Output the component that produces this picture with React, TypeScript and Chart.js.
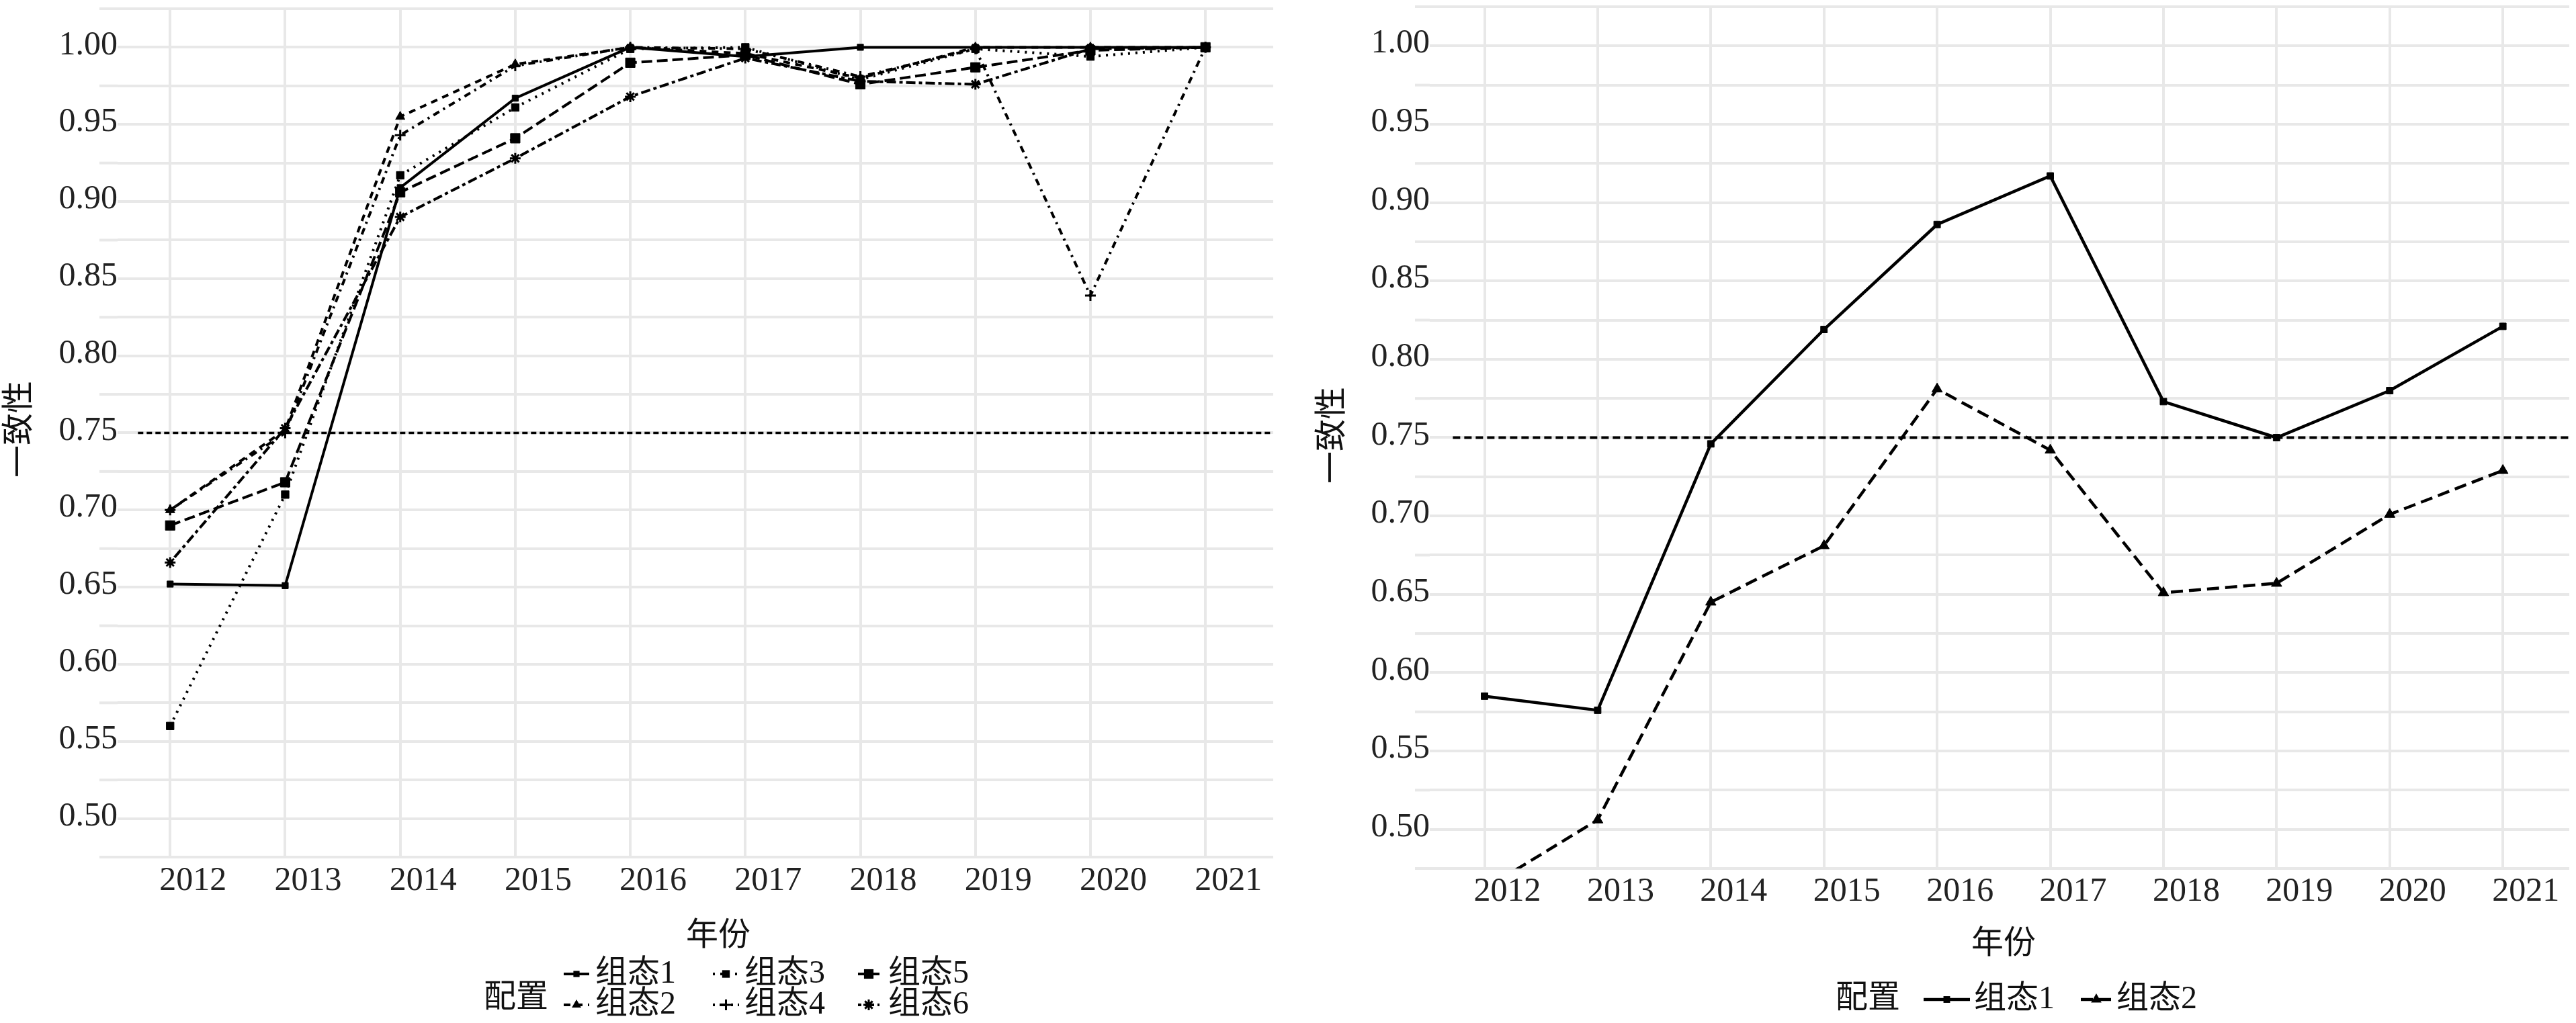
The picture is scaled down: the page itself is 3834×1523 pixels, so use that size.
import React, { useEffect, useRef } from 'react';
import { Chart, registerables } from 'chart.js';

Chart.register(...registerables);

// ---------- data ----------
const years = [2012, 2013, 2014, 2015, 2016, 2017, 2018, 2019, 2020, 2021];

const leftNames = ['组态1', '组态2', '组态3', '组态4', '组态5', '组态6'];
const left1 = [0.652, 0.651, 0.909, 0.967, 1.0, 0.994, 1.0, 1.0, 1.0, 1.0];
const left2 = [0.7, 0.752, 0.955, 0.989, 1.0, 0.996, 0.98, 1.0, 1.0, 1.0];
const left3 = [0.56, 0.71, 0.917, 0.961, 0.999, 1.0, 0.979, 0.999, 0.994, 1.0];
const left4 = [0.7, 0.75, 0.943, 0.988, 1.0, 0.999, 0.981, 0.999, 0.839, 1.0];
const left5 = [0.69, 0.718, 0.906, 0.941, 0.99, 0.995, 0.976, 0.987, 0.998, 1.0];
const left6 = [0.666, 0.753, 0.89, 0.928, 0.968, 0.993, 0.978, 0.976, 0.999, 1.0];

const rightNames = ['组态1', '组态2'];
const right1 = [0.585, 0.576, 0.746, 0.819, 0.886, 0.917, 0.773, 0.75, 0.78, 0.821];
const right2 = [0.462, 0.506, 0.645, 0.681, 0.781, 0.742, 0.651, 0.657, 0.701, 0.729];

const threshold = 0.75;
const yMin = 0.475;
const yMax = 1.025;
const yStep = 0.025;
const leftXRange = [2011.543, 2021.589];
const rightXRange = [2011.516, 2021.587];
const hlineStart = 2011.72;

const xTitle = '年份';
const yTitle = '一致性';
const legendTitle = '配置';

// ---------- styles ----------
const FONT = "'Liberation Serif', 'Times New Roman', 'Noto Sans CJK SC', serif";
const GRID = '#e8e8e8';

const leftStyles = [
  { dash: [], point: 'rect', r: 6.5, bw: 1 },
  { dash: [10, 8], point: 'triangle', r: 8, bw: 1 },
  { dash: [3, 8], point: 'rect', r: 8, bw: 1 },
  { dash: [3, 7, 10, 7], point: 'cross', r: 8, bw: 3 },
  { dash: [16, 7], point: 'rect', r: 10, bw: 1 },
  { dash: [5, 5, 14, 5], point: 'star', r: 8, bw: 3 },
];
const rightStyles = [
  { dash: [], point: 'rect', r: 7, bw: 1 },
  { dash: [18, 9], point: 'triangle', r: 9, bw: 1 },
];

const yTicks = Array.from({ length: Math.round((yMax - yMin) / yStep) + 1 }, (_, i) =>
  +(yMin + i * yStep).toFixed(3)
);
const isMajor = (v: number) => Math.abs(v * 20 - Math.round(v * 20)) < 1e-6;

function drawMarker(ctx: CanvasRenderingContext2D, style: string, x: number, y: number, r: number, bw: number) {
  ctx.beginPath();
  if (style === 'rect') {
    const s = r * Math.SQRT1_2;
    ctx.rect(x - s, y - s, 2 * s, 2 * s);
    ctx.fill();
  } else if (style === 'triangle') {
    let rad = 0;
    ctx.moveTo(x + Math.sin(rad) * r, y - Math.cos(rad) * r);
    rad += (2 * Math.PI) / 3;
    ctx.lineTo(x + Math.sin(rad) * r, y - Math.cos(rad) * r);
    rad += (2 * Math.PI) / 3;
    ctx.lineTo(x + Math.sin(rad) * r, y - Math.cos(rad) * r);
    ctx.closePath();
    ctx.fill();
  } else if (style === 'cross' || style === 'star') {
    ctx.lineWidth = bw;
    ctx.moveTo(x - r, y);
    ctx.lineTo(x + r, y);
    ctx.moveTo(x, y - r);
    ctx.lineTo(x, y + r);
    if (style === 'star') {
      const d = r * Math.SQRT1_2;
      ctx.moveTo(x - d, y - d);
      ctx.lineTo(x + d, y + d);
      ctx.moveTo(x - d, y + d);
      ctx.lineTo(x + d, y - d);
    }
    ctx.stroke();
  }
}

type Layout = {
  canvasW: number;
  canvasH: number;
  padTop: number;
  yAxisW: number;
  gridStartX: number;
  xAxisH: number;
  yLabelPad: number;
  xLabelPad: number;
  xLabelShift: number;
  xRange: number[];
  lineWidth: number;
  hlineWidth: number;
  hlineDash: number[];
  xTitlePos: [number, number];
  yTitlePos: [number, number];
  legendTitlePos: [number, number];
  legendItems: { x0: number; x1: number; y: number; tx: number }[];
};

function buildConfig(names: string[], series: number[][], styles: any[], L: Layout): any {
  const xMin = L.xRange[0];
  const xMax = L.xRange[1];
  const datasets: any[] = series.map((vals, i) => ({
    label: names[i],
    data: years.map((yr, j) => ({ x: yr, y: vals[j] })),
    borderColor: '#000',
    backgroundColor: '#000',
    borderWidth: L.lineWidth,
    borderDash: styles[i].dash,
    pointStyle: styles[i].point,
    pointRadius: styles[i].r,
    pointBackgroundColor: '#000',
    pointBorderColor: '#000',
    pointBorderWidth: styles[i].bw,
    tension: 0,
    fill: false,
  }));
  datasets.push({
    label: 'threshold',
    data: [
      { x: hlineStart, y: threshold },
      { x: xMax, y: threshold },
    ],
    borderColor: '#000',
    borderWidth: L.hlineWidth,
    borderDash: L.hlineDash,
    pointRadius: 0,
    fill: false,
  });

  const decor = {
    id: 'decor',
    beforeDatasetsDraw(chart: any) {
      // short extensions of the minor grid lines under the tick labels
      const ctx: CanvasRenderingContext2D = chart.ctx;
      const ys = chart.scales.y;
      ctx.save();
      ctx.strokeStyle = GRID;
      ctx.lineWidth = 4;
      yTicks.forEach((v) => {
        if (isMajor(v)) return;
        const py = ys.getPixelForValue(v);
        ctx.beginPath();
        ctx.moveTo(L.gridStartX, py);
        ctx.lineTo(chart.chartArea.left, py);
        ctx.stroke();
      });
      ctx.restore();
    },
    afterDraw(chart: any) {
      const ctx: CanvasRenderingContext2D = chart.ctx;
      ctx.save();
      ctx.fillStyle = '#111';
      ctx.strokeStyle = '#000';
      ctx.font = `48px ${FONT}`;
      ctx.textAlign = 'center';
      ctx.textBaseline = 'middle';
      ctx.fillText(xTitle, L.xTitlePos[0], L.xTitlePos[1]);
      ctx.save();
      ctx.translate(L.yTitlePos[0], L.yTitlePos[1]);
      ctx.rotate(-Math.PI / 2);
      ctx.fillText(yTitle, 0, 0);
      ctx.restore();
      ctx.fillText(legendTitle, L.legendTitlePos[0], L.legendTitlePos[1]);
      L.legendItems.forEach((it, i) => {
        const st = styles[i];
        ctx.save();
        ctx.strokeStyle = '#000';
        ctx.fillStyle = '#000';
        ctx.lineWidth = L.lineWidth;
        ctx.setLineDash(st.dash);
        ctx.beginPath();
        ctx.moveTo(it.x0, it.y);
        ctx.lineTo(it.x1, it.y);
        ctx.stroke();
        ctx.setLineDash([]);
        drawMarker(ctx, st.point, (it.x0 + it.x1) / 2, it.y, st.r, st.bw);
        ctx.restore();
        ctx.textAlign = 'left';
        ctx.fillStyle = '#111';
        ctx.fillText(names[i], it.tx, it.y);
      });
      ctx.restore();
    },
  };

  return {
    type: 'line',
    data: { datasets },
    options: {
      animation: false,
      responsive: false,
      maintainAspectRatio: false,
      devicePixelRatio: 1,
      layout: { padding: { top: L.padTop, right: 0, bottom: 0, left: 0 } },
      plugins: {
        legend: { display: false },
        tooltip: { enabled: false },
        title: { display: false },
      },
      scales: {
        x: {
          type: 'linear',
          min: xMin,
          max: xMax,
          afterBuildTicks: (s: any) => {
            s.ticks = years.map((v) => ({ value: v }));
          },
          afterFit: (s: any) => {
            s.height = L.xAxisH;
            s.paddingLeft = 0;
            s.paddingRight = 0;
          },
          grid: { color: GRID, lineWidth: 4, drawTicks: false },
          border: { display: false },
          ticks: {
            padding: L.xLabelPad,
            labelOffset: L.xLabelShift,
            color: '#222',
            font: { family: FONT, size: 50 },
            maxRotation: 0,
            autoSkip: false,
            callback: (v: number) => String(Math.round(v)),
          },
        },
        y: {
          type: 'linear',
          min: yMin,
          max: yMax,
          afterBuildTicks: (s: any) => {
            s.ticks = yTicks.map((v) => ({ value: v }));
          },
          afterFit: (s: any) => {
            s.width = L.yAxisW;
            s.paddingTop = 0;
            s.paddingBottom = 0;
          },
          grid: { color: GRID, lineWidth: 4, drawTicks: false },
          border: { display: false },
          ticks: {
            padding: L.yLabelPad,
            labelOffset: -3,
            color: '#222',
            font: { family: FONT, size: 50 },
            autoSkip: false,
            callback: (v: number) => (isMajor(v) ? v.toFixed(2) : ''),
          },
        },
      },
    },
    plugins: [decor],
  };
}

const leftLayout: Layout = {
  canvasW: 1906,
  canvasH: 1523,
  padTop: 13,
  yAxisW: 175,
  gridStartX: 148,
  xAxisH: 247,
  yLabelPad: 0,
  xLabelPad: 6,
  xLabelShift: 34,
  xRange: leftXRange,
  lineWidth: 4,
  hlineWidth: 3.5,
  hlineDash: [8, 5],
  xTitlePos: [1069, 1394],
  yTitlePos: [30, 639],
  legendTitlePos: [768, 1486],
  legendItems: [
    { x0: 839, x1: 877, y: 1450, tx: 886 },
    { x0: 839, x1: 877, y: 1496, tx: 886 },
    { x0: 1061, x1: 1100, y: 1450, tx: 1108 },
    { x0: 1061, x1: 1100, y: 1496, tx: 1108 },
    { x0: 1277, x1: 1309, y: 1450, tx: 1322 },
    { x0: 1277, x1: 1309, y: 1496, tx: 1322 },
  ],
};

const rightLayout: Layout = {
  canvasW: 1928,
  canvasH: 1523,
  padTop: 3,
  yAxisW: 222,
  gridStartX: 200,
  xAxisH: 230,
  yLabelPad: 0,
  xLabelPad: 5,
  xLabelShift: 34,
  xRange: rightXRange,
  lineWidth: 4.5,
  hlineWidth: 4,
  hlineDash: [11, 6],
  xTitlePos: [1076, 1406],
  yTitlePos: [78, 648],
  legendTitlePos: [874, 1487],
  legendItems: [
    { x0: 957, x1: 1026, y: 1488, tx: 1032 },
    { x0: 1191, x1: 1237, y: 1488, tx: 1244 },
  ],
};

function Panel({ left, layout, names, series, styles }: any) {
  const ref = useRef<HTMLCanvasElement | null>(null);
  useEffect(() => {
    if (!ref.current) return;
    const chart = new Chart(ref.current, buildConfig(names, series, styles, layout));
    return () => chart.destroy();
  }, []);
  return (
    <canvas
      ref={ref}
      width={layout.canvasW}
      height={layout.canvasH}
      style={{ position: 'absolute', left, top: 0, width: layout.canvasW, height: layout.canvasH }}
    />
  );
}

export default function App() {
  return (
    <div
      style={{
        position: 'absolute',
        left: 0,
        top: 0,
        width: 3834,
        height: 1523,
        background: '#fff',
        overflow: 'hidden',
      }}
    >
      <Panel
        left={0}
        layout={leftLayout}
        names={leftNames}
        series={[left1, left2, left3, left4, left5, left6]}
        styles={leftStyles}
      />
      <Panel left={1906} layout={rightLayout} names={rightNames} series={[right1, right2]} styles={rightStyles} />
    </div>
  );
}
